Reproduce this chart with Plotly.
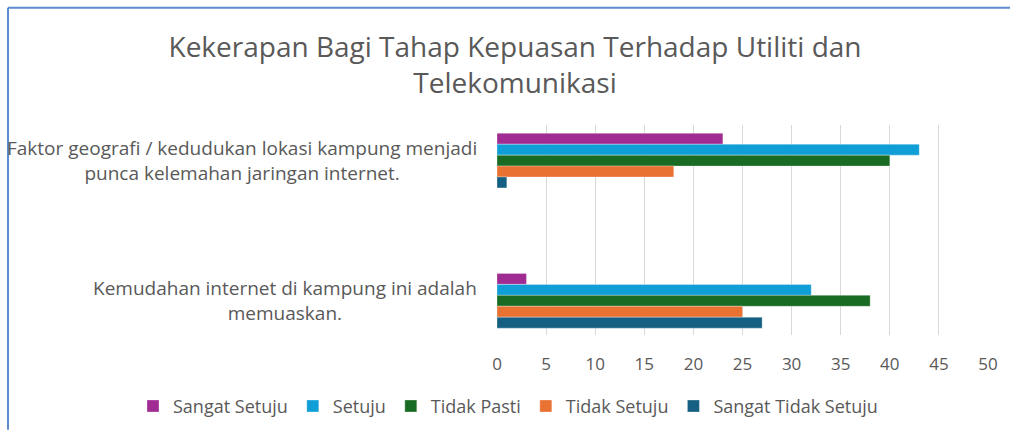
import plotly.graph_objects as go

categories = [
    "Faktor geografi / kedudukan lokasi kampung menjadi<br>punca kelemahan jaringan internet.",
    "Kemudahan internet di kampung ini adalah<br>memuaskan.",
]
series_names = ["Sangat Setuju", "Setuju", "Tidak Pasti", "Tidak Setuju", "Sangat Tidak Setuju"]
sangat_setuju = [23, 3]
setuju = [43, 32]
tidak_pasti = [40, 38]
tidak_setuju = [18, 25]
sangat_tidak_setuju = [1, 27]
x_ticks = [0, 5, 10, 15, 20, 25, 30, 35, 40, 45, 50]

colors = ["#A02B93", "#0F9ED5", "#196B24", "#E97132", "#156082"]
values = [sangat_setuju, setuju, tidak_pasti, tidak_setuju, sangat_tidak_setuju]

FONT = "Open Sans"
GREY = "#595959"

W, H = 1010, 437
L, R, T, B = 497, 22, 125, 97
PW, PH = W - L - R, H - T - B

fig = go.Figure()
for name, vals, col in zip(series_names, values, colors):
    fig.add_trace(go.Bar(
        y=categories, x=vals, name=name, orientation="h",
        marker=dict(color=col, line=dict(color="rgba(255,255,255,0.6)", width=0.5)),
    ))

for i, cat in enumerate(categories):
    fig.add_annotation(
        xref="paper", yref="y", x=(479 - L) / PW, y=cat, text=cat,
        xanchor="right", yanchor="middle", align="center", showarrow=False,
        font=dict(family=FONT, size=19, color=GREY),
    )

fig.update_layout(
    width=W, height=H,
    margin=dict(l=L, r=R, t=T, b=B),
    paper_bgcolor="white", plot_bgcolor="white",
    barmode="group", bargap=0.61, bargroupgap=0,
    title=dict(
        text="Kekerapan Bagi Tahap Kepuasan Terhadap Utiliti dan<br>Telekomunikasi",
        x=515 / W, xanchor="center", y=1 - 57 / H, yanchor="middle",
        font=dict(family=FONT, size=28, color=GREY),
    ),
    xaxis=dict(
        range=[0, 50], tickvals=x_ticks, showgrid=True, gridcolor="#D9D9D9", gridwidth=1,
        zeroline=False, showline=False, ticks="outside", ticklen=14, tickcolor="rgba(0,0,0,0)",
        tickfont=dict(family=FONT, size=17, color=GREY),
    ),
    yaxis=dict(
        type="category", range=[1.244, -0.254], showticklabels=False,
        showgrid=False, zeroline=False, showline=False, ticks="",
    ),
    legend=dict(
        orientation="h", xref="paper", yref="paper",
        x=(133 - L) / PW, xanchor="left", y=-(413 - (H - B)) / PH, yanchor="middle",
        font=dict(family=FONT, size=18, color=GREY), traceorder="normal",
    ),
    showlegend=True,
)

fig.add_shape(type="line", xref="paper", yref="paper",
              x0=(8 - L) / PW, x1=(W - L) / PW,
              y0=(H - B - 5) / PH, y1=(H - B - 5) / PH,
              line=dict(color="#5B8BD0", width=2))
fig.add_shape(type="line", xref="paper", yref="paper",
              x0=(8 - L) / PW, x1=(8 - L) / PW,
              y0=-B / PH, y1=(H - B - 5) / PH,
              line=dict(color="#5B8BD0", width=2))

fig.write_html(
    "out.html",
    config={"displayModeBar": False},
    post_script="document.body.style.margin='0';document.body.style.overflow='hidden';",
)
